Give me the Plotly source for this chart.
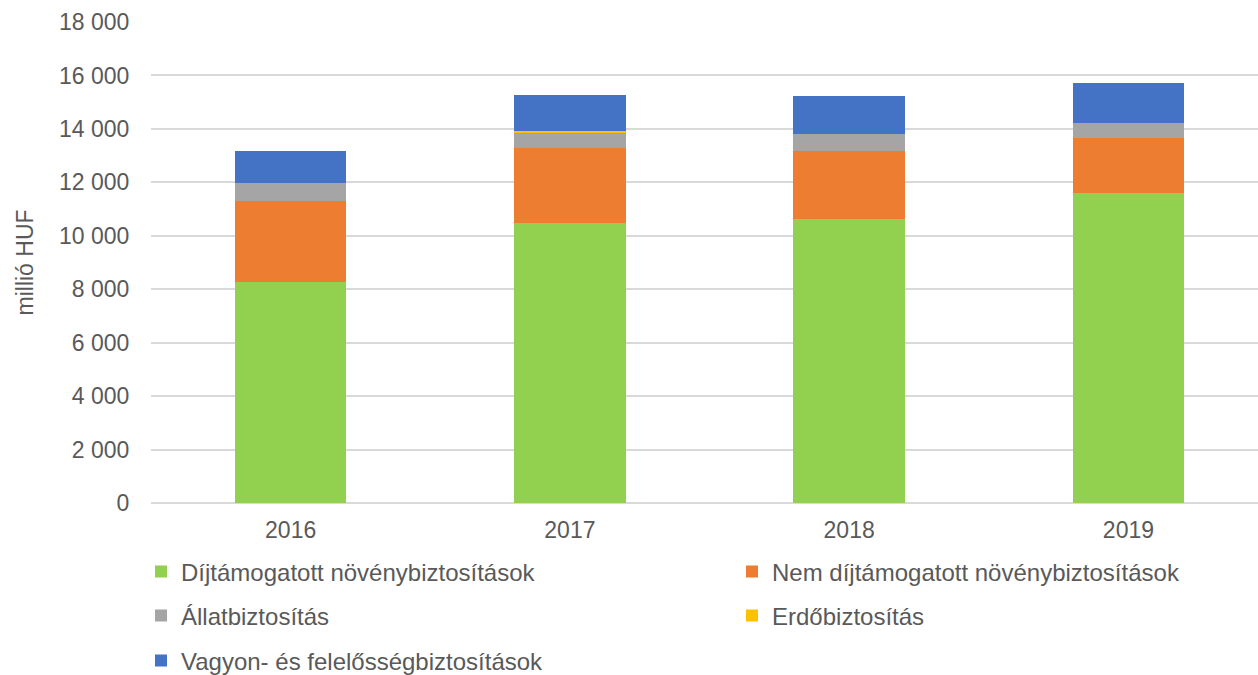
import plotly.graph_objects as go

years = ["2016", "2017", "2018", "2019"]
dijtamogatott = [8260, 10460, 10610, 11600]
nem_dijtamogatott = [3050, 2810, 2560, 2070]
allat = [670, 610, 640, 560]
erdo = [5, 25, 8, 5]
vagyon = [1200, 1380, 1420, 1480]
y_ticks = [0, 2000, 4000, 6000, 8000, 10000, 12000, 14000, 16000, 18000]

series_names = ["Díjtámogatott növénybiztosítások", "Nem díjtámogatott növénybiztosítások",
                "Állatbiztosítás", "Erdőbiztosítás", "Vagyon- és felelősségbiztosítások"]
series_values = [dijtamogatott, nem_dijtamogatott, allat, erdo, vagyon]
series_colors = ["#92D050", "#ED7D31", "#A5A5A5", "#FFC000", "#4472C4"]
# legend placement (text left x, text center y) in pixels
legend_pos = [(182, 572), (773, 572), (182, 616), (773, 616), (182, 661)]

FONT = "Liberation Sans, Arial, sans-serif"
TXT = "#595959"
W, H = 1258, 675

fig = go.Figure()
legend_layout = {}
for i, (name, vals, color, (lx, ly)) in enumerate(zip(series_names, series_values, series_colors, legend_pos)):
    lg = f"legend{i + 2}"
    fig.add_trace(go.Bar(x=years, y=vals, name=name, marker=dict(color=color, line=dict(width=0)),
                         legend=lg))
    legend_layout[lg] = dict(orientation="v", xref="container", yref="container", xanchor="left",
                             yanchor="middle", x=(lx - 41) / W, y=1 - ly / H,
                             font=dict(family=FONT, size=24, color=TXT), bgcolor="rgba(0,0,0,0)")

fig.update_layout(
    width=W, height=H,
    margin=dict(l=151, r=0, t=22, b=172, autoexpand=False),
    paper_bgcolor="white", plot_bgcolor="white",
    barmode="stack", bargap=0.6,
    separators=", ",
    font=dict(family=FONT, size=23, color=TXT),
    xaxis=dict(type="category", range=[-0.5, 3.464], showgrid=False, showline=False,
               ticks="outside", ticklen=6, tickcolor="rgba(0,0,0,0)",
               tickfont=dict(family=FONT, size=23, color=TXT), zeroline=False),
    yaxis=dict(range=[0, 18000], tickvals=y_ticks, tickformat=",d",
               showgrid=True, gridcolor="#D9D9D9", gridwidth=1.5,
               zeroline=True, zerolinecolor="#D9D9D9", zerolinewidth=1.5,
               ticks="outside", ticklen=16, tickcolor="rgba(0,0,0,0)",
               tickfont=dict(family=FONT, size=23, color=TXT)),
    annotations=[dict(text="millió HUF", xref="paper", yref="paper", x=(24 - 151) / 1107, y=0.5,
                      xanchor="center", yanchor="middle", textangle=-90, showarrow=False,
                      font=dict(family=FONT, size=23, color=TXT))],
    **legend_layout,
)

fig.write_html("out.html", config={"displayModeBar": False},
               post_script="document.body.style.margin='0';")
